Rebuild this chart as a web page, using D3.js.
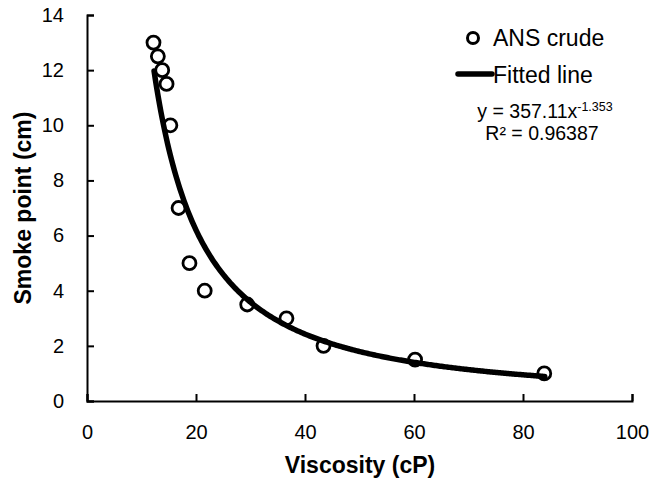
<!DOCTYPE html>
<html>
<head>
<meta charset="utf-8">
<script src="https://cdn.jsdelivr.net/npm/d3@7"></script>
<style>
  body { margin: 0; background: #fff; }
  svg { display: block; font-family: "Liberation Sans", Arial, sans-serif; }
</style>
</head>
<body>
<svg id="chart" width="653" height="486"></svg>
<script>
// smoke point vs viscosity -- ANS crude

var viscosity  = [12.2, 13.0, 13.8, 14.6, 15.3, 16.8, 18.8, 21.6, 29.4, 36.6, 43.4, 60.2, 83.9];
var smokePoint = [13, 12.5, 12, 11.5, 10, 7, 5, 4, 3.5, 3, 2, 1.5, 1];

var xTicks = [0, 20, 40, 60, 80, 100];
var yTicks = [0, 2, 4, 6, 8, 10, 12, 14];

// power fit printed on the chart: y = a * x^b
var fitA = 357.11, fitB = -1.353;
var fitRange = [12.3, 84];

var svg = d3.select("#chart");

var x = d3.scaleLinear().domain([0, 100]).range([87, 632]);
var y = d3.scaleLinear().domain([0, 14]).range([401, 15]);

///////////////////////////////////////////////////////////////////////////////
// Axes (ticks point inward)

var xAxis = svg.append("g")
  .attr("transform", "translate(0," + y(0) + ")")
  .call(d3.axisBottom(x).tickValues(xTicks).tickSizeInner(-7).tickSizeOuter(-7).tickPadding(24));

var yAxis = svg.append("g")
  .attr("transform", "translate(" + x(0) + ",0)")
  .call(d3.axisLeft(y).tickValues(yTicks).tickSizeInner(-7).tickSizeOuter(-7).tickPadding(23));

[xAxis, yAxis].forEach(function (g) {
  g.select(".domain").attr("stroke", "#000").attr("stroke-width", 2);
  g.selectAll(".tick line").attr("stroke", "#000").attr("stroke-width", 2);
  g.selectAll(".tick text")
    .attr("fill", "#000")
    .style("font-size", "20px")
    .style("font-family", "Liberation Sans, Arial, sans-serif");
});

svg.append("text")
  .attr("x", 360).attr("y", 473)
  .attr("text-anchor", "middle")
  .style("font-size", "23px").style("font-weight", "bold")
  .text("Viscosity (cP)");

svg.append("text")
  .attr("transform", "translate(31,208) rotate(-90)")
  .attr("text-anchor", "middle")
  .style("font-size", "23px").style("font-weight", "bold")
  .text("Smoke point (cm)");

///////////////////////////////////////////////////////////////////////////////
// Fitted line + points

var fitX = d3.range(fitRange[0], fitRange[1], 0.25).concat([fitRange[1]]);
var line = d3.line()
  .x(function (d) { return x(d); })
  .y(function (d) { return y(fitA * Math.pow(d, fitB)); });

svg.append("path")
  .datum(fitX)
  .attr("d", line)
  .attr("fill", "none")
  .attr("stroke", "#000")
  .attr("stroke-width", 5.5)
  .attr("stroke-linecap", "round");

svg.append("g").selectAll("circle")
  .data(d3.zip(viscosity, smokePoint))
  .enter().append("circle")
  .attr("cx", function (d) { return x(d[0]); })
  .attr("cy", function (d) { return y(d[1]); })
  .attr("r", 6.5)
  .attr("fill", "none")
  .attr("stroke", "#000")
  .attr("stroke-width", 2.8);

///////////////////////////////////////////////////////////////////////////////
// Legend and equation

var legend = svg.append("g");
legend.append("circle")
  .attr("cx", 473).attr("cy", 38).attr("r", 5.5)
  .attr("fill", "none").attr("stroke", "#000").attr("stroke-width", 3);
legend.append("text")
  .attr("x", 493).attr("y", 46)
  .style("font-size", "23px")
  .text("ANS crude");

legend.append("line")
  .attr("x1", 458).attr("x2", 492).attr("y1", 74).attr("y2", 74)
  .attr("stroke", "#000").attr("stroke-width", 5.5).attr("stroke-linecap", "round");
legend.append("text")
  .attr("x", 493).attr("y", 83)
  .style("font-size", "23px")
  .text("Fitted line");

var eq = svg.append("text")
  .attr("x", 545).attr("y", 118)
  .attr("text-anchor", "middle")
  .style("font-size", "19.5px");
eq.append("tspan").text("y = 357.11x");
eq.append("tspan").attr("dy", -7).style("font-size", "12.5px").text("-1.353");

svg.append("text")
  .attr("x", 542).attr("y", 140)
  .attr("text-anchor", "middle")
  .style("font-size", "19.5px")
  .text("R² = 0.96387");
</script>
</body>
</html>
